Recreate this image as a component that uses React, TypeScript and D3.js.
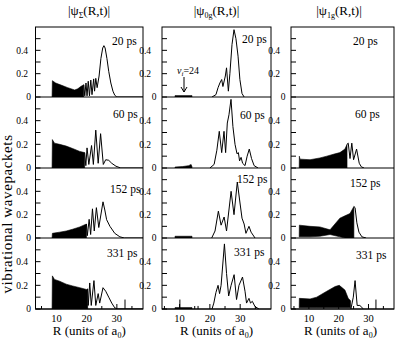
import React from 'react';
import * as d3 from 'd3';

const FONT = "Liberation Serif, Times New Roman, Times, serif";

// ---- data ----
const timeLabels = ['20 ps', '60 ps', '152 ps', '331 ps'];
const yMajorTicks = [0, 0.2, 0.4];
const yMinorTicks = [0.1, 0.3, 0.5];
const xMajorTicks = [10, 20, 30];
const xMinorTicks = [5, 15, 25, 35];

type Band = [number, number, number][];
type Line = [number, number][];

// |psi_Sigma|
const sigmaBand20: Band = [[8.5,0,0],[8.6,0,0.14],[9.7,0,0.12],[11.7,0,0.10],[13.7,0,0.08],[16,0,0.06],[17,0,0.07],[18,0,0.09],[19,0,0.105]];
const sigmaLine20: Line = [[19,0.105],[19.35,0.01],[19.75,0.12],[20.1,0.01],[20.5,0.135],[20.9,0.01],[21.35,0.145],[21.75,0.02],[22.3,0.155],[22.6,0.05],[23,0.16],[23.45,0.08],[24.1,0.18],[24.7,0.33],[25.3,0.42],[25.7,0.44],[26.1,0.42],[26.7,0.33],[27.3,0.22],[28,0.12],[28.7,0.05],[29.3,0.015],[30,0],[38.7,0]];
const sigmaBand60: Band = [[8.5,0,0],[8.6,0,0.24],[9.3,0,0.21],[11,0,0.2],[13.2,0,0.185],[15.3,0,0.165],[17.7,0,0.14],[19.3,0,0.13]];
const sigmaLine60: Line = [[19.3,0.13],[19.7,0.02],[20.1,0.17],[20.7,0.03],[21.6,0.19],[22.2,0.03],[23,0.32],[23.8,0.04],[24.6,0.29],[25.5,0.03],[26.3,0.07],[27.3,0.065],[28.3,0.04],[29.7,0.015],[31.3,0],[38.7,0]];
const sigmaBand152: Band = [[8.5,0,0],[8.6,0,0.04],[11,0,0.05],[13.2,0,0.06],[15.3,0,0.075],[17.7,0,0.095],[19.9,0,0.12]];
const sigmaLine152: Line = [[19.9,0.12],[20.2,0.02],[20.8,0.16],[21.3,0.03],[21.9,0.25],[22.5,0.06],[23.2,0.26],[24,0.09],[25.4,0.31],[26,0.24],[26.6,0.157],[27.7,0.1],[29.3,0.04],[31,0.01],[32.5,0],[38.7,0]];
const sigmaBand331: Band = [[8.5,0,0],[8.6,0,0.28],[9.3,0,0.25],[11,0,0.235],[13.2,0,0.21],[15.3,0,0.195],[17.7,0,0.18],[19.9,0,0.165],[20.3,0,0.17]];
const sigmaLine331: Line = [[20.3,0.17],[20.5,0.03],[21,0.22],[21.5,0.03],[22.4,0.24],[23,0.03],[23.8,0.13],[24.3,0.05],[25.4,0.18],[26.3,0.15],[27.3,0.1],[28.3,0.05],[29.3,0.01],[30.3,0],[38.7,0]];
const sigmaSpikes331: Line = [[32.7,0.08]];

// |psi_0g|
const g0Band20: Band = [[8.5,0,0.012],[14.1,0,0.012]];
const g0Line20: Line = [[20.7,0],[22,0.02],[22.7,0.08],[23.3,0.12],[23.9,0.15],[24.3,0.09],[25.1,0.18],[25.5,0.25],[26.1,0.05],[26.6,0.2],[27.3,0.45],[27.96,0.577],[28.6,0.5],[29.3,0.35],[29.9,0.15],[30.6,0.03],[31.3,0]];
const g0Band60: Band = [[8.5,0,0.008],[11,0,0.012],[13,0,0.02],[13.8,0,0.03],[14.1,0,0.01]];
const g0Line60: Line = [[20,0],[21.4,0.03],[22.3,0.15],[23.1,0.31],[23.9,0.13],[24.66,0.31],[25.2,0.13],[25.75,0.38],[26.3,0.45],[26.97,0.58],[27.6,0.35],[28.3,0.2],[28.95,0.12],[29.4,0.13],[29.8,0.06],[30.3,0.09],[30.8,0.04],[31.6,0.02],[32.3,0.1],[33,0.16],[33.75,0.08],[34.6,0.02],[35.9,0]];
const g0Band152: Band = [[8.5,0,0.015],[14.1,0,0.015]];
const g0Line152: Line = [[20.6,0],[21.7,0.06],[22.8,0.23],[23.7,0.11],[24.7,0.18],[25.5,0.06],[27,0.4],[27.96,0.2],[29.05,0.48],[29.94,0.3],[30.6,0.17],[31.3,0.12],[31.9,0.04],[32.9,0.1],[33.6,0.05],[34.9,0]];
const g0Band331: Band = [[8.5,0,0.012],[14.1,0,0.012]];
const g0Line331: Line = [[20.7,0],[21.3,0.05],[22,0.14],[22.7,0.2],[23.2,0.13],[23.7,0.2],[24.8,0.55],[25.5,0.3],[26.2,0.11],[27,0.2],[28,0.29],[28.8,0.08],[29.6,0.2],[30.77,0.27],[31.6,0.15],[32.1,0.05],[32.9,0.09],[33.4,0.05],[34,0.065],[34.9,0.02],[36.2,0]];
const g0Spikes331: Line = [[10.1,0.08],[16.1,0.026]];

// |psi_1g|
const g1Band60: Band = [[6.75,0,0],[6.8,0,0.10],[7.0,0,0.075],[10.4,0,0.07],[13.7,0,0.085],[16,0,0.1],[18.8,0,0.12],[20.4,0,0.13],[22.1,0,0.16],[22.8,0,0.2]];
const g1Line60: Line = [[22.8,0.2],[23.2,0.21],[23.8,0.08],[24.4,0.21],[25,0.07],[26,0.16],[26.9,0.04],[27.6,0.01],[28.5,0]];
const g1Band152: Band = [[6.75,0.01,0.01],[6.8,0.01,0.11],[10.4,0.01,0.1],[13.7,0.015,0.095],[17.1,0.03,0.07],[20.4,0.01,0.17],[22.1,0,0.19],[23.8,0,0.21],[25.1,0,0.27]];
const g1Line152: Line = [[25.1,0.27],[25.5,0.26],[26.1,0.13],[26.8,0.05],[27.8,0.01],[29.2,0]];
const g1Band331: Band = [[6.75,0.01,0.01],[6.8,0.01,0.09],[10.4,0.01,0.085],[12.6,0.01,0.1],[16,0.01,0.15],[18.8,0.01,0.19],[20.2,0.01,0.2],[22.1,0.01,0.16],[23.2,0.01,0.09],[24,0.01,0.07]];
const g1Line331: Line = [[24.1,0],[24.9,0.1],[25.5,0.24],[26.2,0.03],[27.1,0.03],[28.3,0]];
const g1Spikes331: Line = [[32.5,0.08]];

// ---- layout ----
const colLeft = [35.5, 162, 291];
const colRight = [143, 271, 394];
const colDomain: [number, number][] = [[3, 38.67], [4.2, 40.17], [4, 38.56]];
const rowEdges = [27, 97, 168, 238, 309];
const colTitleX = [89, 216.5, 339];
const timePos = [
  [[112, 45], [113, 118], [110, 193], [107, 257]],
  [[242, 43], [240, 119], [237, 183], [234, 256]],
  [[353, 45], [355, 118], [350, 187], [356, 259]],
];

const panels: { band?: Band; line?: Line; spikes?: Line }[][] = [
  [
    { band: sigmaBand20, line: sigmaLine20 },
    { band: sigmaBand60, line: sigmaLine60 },
    { band: sigmaBand152, line: sigmaLine152 },
    { band: sigmaBand331, line: sigmaLine331, spikes: sigmaSpikes331 },
  ],
  [
    { band: g0Band20, line: g0Line20 },
    { band: g0Band60, line: g0Line60 },
    { band: g0Band152, line: g0Line152 },
    { band: g0Band331, line: g0Line331, spikes: g0Spikes331 },
  ],
  [
    {},
    { band: g1Band60, line: g1Line60 },
    { band: g1Band152, line: g1Line152 },
    { band: g1Band331, line: g1Line331, spikes: g1Spikes331 },
  ],
];

function Title({ x, sub }: { x: number; sub: string }) {
  return (
    <text x={x} y={15} textAnchor="middle" fontFamily={FONT} fontSize={13} fill="#000">
      |ψ<tspan fontSize={8} dy={3}>{sub}</tspan>
      <tspan dy={-3}>(R,t)|</tspan>
    </text>
  );
}

export default function App() {
  const yLabels: { x: number; y: number; s: string }[] = [];
  for (let c = 0; c < 3; c++) {
    const off = c === 0 ? [4.5, 7.5] : [5.5, 11];
    for (let r = 0; r < 4; r++) {
      const y = d3.scaleLinear().domain([0, 0.6]).range([rowEdges[r + 1], rowEdges[r]]);
      yMajorTicks.forEach(t => {
        yLabels.push({ x: colLeft[c] - (t === 0 ? off[0] : off[1]), y: y(t) + 3.2, s: t === 0 ? '0' : t.toFixed(1) });
      });
    }
  }
  return (
    <svg width={395} height={344} style={{ position: 'absolute', left: 0, top: 0, background: '#fff' }}>
      <rect x={0} y={0} width={395} height={344} fill="#fff" />
      {panels.map((col, c) => {
        const x = d3.scaleLinear().domain(colDomain[c]).range([colLeft[c], colRight[c]]);
        return (
          <g key={'c' + c}>
            {col.map((p, r) => {
              const y = d3.scaleLinear().domain([0, 0.6]).range([rowEdges[r + 1], rowEdges[r]]);
              const area = d3.area<[number, number, number]>().x(d => x(d[0])).y0(d => y(d[1])).y1(d => y(d[2]));
              const line = d3.line<[number, number]>().x(d => x(d[0])).y(d => y(d[1]));
              const clipId = `clip-${c}-${r}`;
              return (
                <g key={'r' + r}>
                  <clipPath id={clipId}>
                    <rect x={colLeft[c]} y={rowEdges[r]} width={colRight[c] - colLeft[c]} height={rowEdges[r + 1] - rowEdges[r]} />
                  </clipPath>
                  <g clipPath={`url(#${clipId})`}>
                    {p.band && <path d={area(p.band) || ''} fill="#000" stroke="#000" strokeWidth={0.6} />}
                    {p.line && <path d={line(p.line) || ''} fill="none" stroke="#000" strokeWidth={1} />}
                    {p.spikes && p.spikes.map((s, i) => (
                      <line key={i} x1={x(s[0])} x2={x(s[0])} y1={y(0)} y2={y(s[1])} stroke="#000" strokeWidth={1} />
                    ))}
                  </g>
                  {yMajorTicks.concat(yMinorTicks).map(t => (
                    <line key={'t' + t} x1={colLeft[c]} x2={colLeft[c] + 5} y1={y(t)} y2={y(t)} stroke="#000" strokeWidth={1} />
                  ))}
                  <text x={timePos[c][r][0]} y={timePos[c][r][1]} fontFamily={FONT} fontSize={11.5} fill="#000">{timeLabels[r]}</text>
                  <line x1={colLeft[c]} x2={colRight[c]} y1={rowEdges[r + 1]} y2={rowEdges[r + 1]} stroke="#000" strokeWidth={1} />
                </g>
              );
            })}
            <rect x={colLeft[c]} y={rowEdges[0]} width={colRight[c] - colLeft[c]} height={rowEdges[4] - rowEdges[0]} fill="none" stroke="#000" strokeWidth={1} />
            {xMajorTicks.map(t => (
              <g key={'x' + t}>
                <line x1={x(t)} x2={x(t)} y1={rowEdges[4]} y2={rowEdges[4] - 5} stroke="#000" />
                <text x={x(t)} y={322} textAnchor="middle" fontFamily={FONT} fontSize={10.5} fill="#000">{t}</text>
              </g>
            ))}
            {xMinorTicks.map(t => (
              <line key={'m' + t} x1={x(t)} x2={x(t)} y1={rowEdges[4]} y2={rowEdges[4] - 3} stroke="#000" />
            ))}
            <text x={(colLeft[c] + colRight[c]) / 2 + (c === 2 ? -2 : 0)} y={335} textAnchor="middle" fontFamily={FONT} fontSize={13} fill="#000">
              R (units of a<tspan fontSize={8} dy={3}>0</tspan><tspan dy={-3}>)</tspan>
            </text>
          </g>
        );
      })}
      <g>
        {yLabels.map((l, i) => (
          <text key={'yl' + i} x={l.x} y={l.y} textAnchor="end" fontFamily={FONT} fontSize={9.5} fill="#000">{l.s}</text>
        ))}
      </g>
      <Title x={colTitleX[0]} sub="Σ" />
      <Title x={colTitleX[1]} sub="0g" />
      <Title x={colTitleX[2]} sub="1g" />
      <text transform="translate(12,214) rotate(-90)" textAnchor="middle" fontFamily={FONT} fontSize={15} letterSpacing={0.6} fill="#000">vibrational wavepackets</text>
      <text x={177} y={74} fontFamily={FONT} fontSize={10} fill="#000">
        <tspan fontStyle="italic">v</tspan><tspan fontSize={7} dy={2} fontStyle="italic">i</tspan><tspan dy={-2}>=24</tspan>
      </text>
      <line x1={184} x2={184} y1={77} y2={92} stroke="#000" strokeWidth={1} />
      <path d="M181,87 L184,92 L187,87" fill="none" stroke="#000" strokeWidth={1} />
    </svg>
  );
}
